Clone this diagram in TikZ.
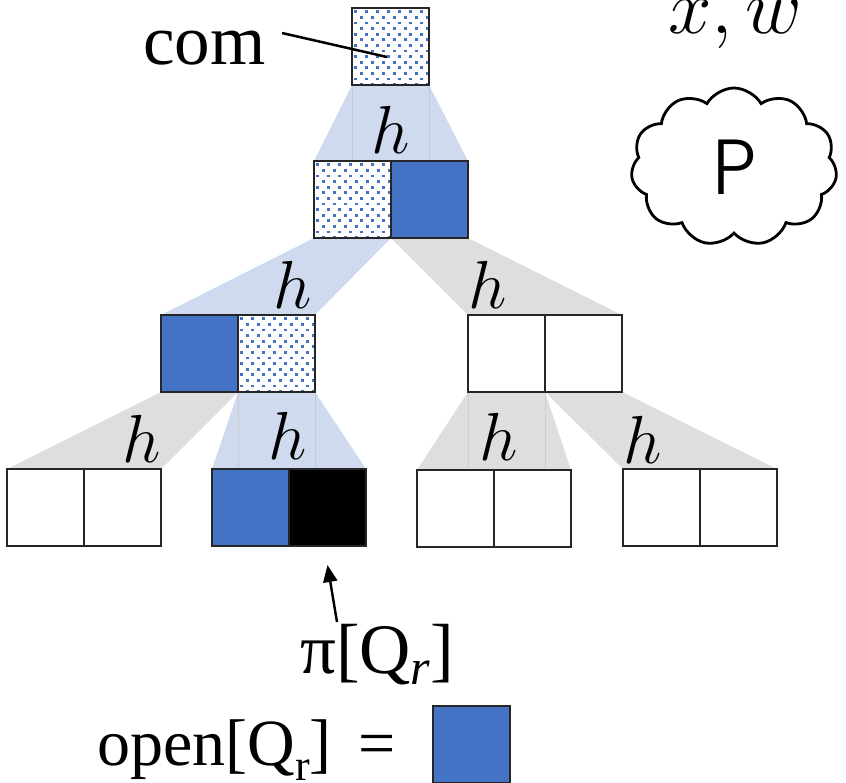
\RequirePackage{fix-cm}
\documentclass[tikz,border=0pt]{standalone}
\usepackage{fontspec}
\setmainfont{Liberation Serif}
\newfontfamily\cloudfont{Poppins}[UprightFont={* Light}]
\usetikzlibrary{shapes.symbols,arrows.meta,calc}

\definecolor{cellblue}{HTML}{4472C4}
\definecolor{fanblue}{HTML}{CFDAEE}
\definecolor{fangray}{HTML}{DEDEDE}

\pgfdeclarelayer{background}
\pgfsetlayers{background,main}

\tikzset{
  cell/.style={rectangle, draw=black!85, line width=1.3pt,
    minimum width=77pt, minimum height=77pt, inner sep=0pt, outer sep=0pt,
    anchor=north west, fill=white},
  bluecell/.style={cell, fill=cellblue},
  blackcell/.style={cell, fill=black},
  dotcell/.style={cell, path picture={
      \foreach \i in {0,...,13}
        \foreach \j in {0,...,7}
          \fill[cellblue] ($(path picture bounding box.north west)
              +({2.3+11*\j+mod(\i,2)*5.5},{2.3+5.6*\i})$) rectangle +(2.8,2.8);
    }},
  fanblue/.style={fill=fanblue, draw=none},
  fangray/.style={fill=fangray, draw=none},
  seam/.style={line width=0.6pt},
  hlabel/.style={font=\fontsize{68}{68}\selectfont, anchor=base, inner sep=0pt},
  bigtext/.style={font=\fontsize{71}{71}\selectfont, anchor=base west, inner sep=0pt},
  arr/.style={line width=2.4pt, -{Triangle[length=17pt,width=14pt]}},
}

\begin{document}
\begin{tikzpicture}[x=1pt,y=-1pt]
  \useasboundingbox (0,0) rectangle (846,782);

  % commitment tree: one pair of cells per node
  \node[dotcell]   (t)  at (352,8)   {};
  \node[dotcell]   (a1) at (314,161) {};
  \node[bluecell]  (a2) at (391,161) {};
  \node[bluecell]  (b1) at (161,315) {};
  \node[dotcell]   (b2) at (238,315) {};
  \node[cell]      (b3) at (468,315) {};
  \node[cell]      (b4) at (545,315) {};
  \node[cell]      (c1) at (7,469)   {};
  \node[cell]      (c2) at (84,469)  {};
  \node[bluecell]  (c3) at (212,469) {};
  \node[blackcell] (c4) at (289,469) {};
  \node[cell]      (c5) at (417,470) {};
  \node[cell]      (c6) at (494,470) {};
  \node[cell]      (c7) at (623,469) {};
  \node[cell]      (c8) at (700,469) {};

  % hash fans from each parent cell to its children
  \begin{pgfonlayer}{background}
    \fill[fanblue] (t.south west) -- (t.south east) -- (a2.north east) -- (a1.north west) -- cycle;
    \fill[fanblue] (a1.south west) -- (a1.south east) -- (b2.north east) -- (b1.north west) -- cycle;
    \fill[fangray] (a2.south west) -- (a2.south east) -- (b4.north east) -- (b3.north west) -- cycle;
    \fill[fangray] (b1.south west) -- (b1.south east) -- (c2.north east) -- (c1.north west) -- cycle;
    \fill[fanblue] (b2.south west) -- (b2.south east) -- (c4.north east) -- (c3.north west) -- cycle;
    \fill[fangray] (b3.south west) -- (b3.south east) -- (c6.north east) -- (c5.north west) -- cycle;
    \fill[fangray] (b4.south west) -- (b4.south east) -- (c8.north east) -- (c7.north west) -- cycle;
    % faint seams below the parent cell edges
    \draw[seam, fanblue!85!cellblue] (t.south west) -- (t.south west |- a1.north);
    \draw[seam, fanblue!85!cellblue] (t.south east) -- (t.south east |- a1.north);
    \draw[seam, fanblue!85!cellblue] (b2.south west) -- (b2.south west |- c3.north);
    \draw[seam, fanblue!85!cellblue] (b2.south east) -- (b2.south east |- c3.north);
    \draw[seam, fangray!92!black] (b1.south east) -- (b1.south east |- c2.north);
    \draw[seam, fangray!92!black] (b3.south west) -- (b3.south west |- c5.north);
    \draw[seam, fangray!92!black] (b3.south east) -- (b3.south east |- c5.north);
  \end{pgfonlayer}

  % hash labels
  \node[hlabel] (h1) at (391,153) {$h$};
  \node[hlabel] (h2) at (293,308) {$h$};
  \node[hlabel] (h3) at (488,308) {$h$};
  \node[hlabel] (h4) at (142,462) {$h$};
  \node[hlabel] (h5) at (288,459) {$h$};
  \node[hlabel] (h6) at (499,460) {$h$};
  \node[hlabel] (h7) at (643,463) {$h$};

  % root commitment
  \node[bigtext] (com) at (143,64) {com};
  \coordinate (comtail) at (282,33);
  \coordinate (comhead) at (387,57);
  \draw[line width=2.5pt] (comtail) -- (comhead);

  % prover with its input and witness
  \node[font=\fontsize{78}{78}\selectfont, anchor=base west, inner sep=0pt] (xw) at (668,33) {$x,w$};
  \node[cloud, draw, line width=2.8pt, cloud puffs=11, cloud puff arc=120,
        cloud ignores aspect, minimum width=206pt, minimum height=158pt,
        font=\cloudfont\fontsize{78}{78}\selectfont] (prover) at (734,167) {P};

  % opening proof of the queried leaf
  \node[bigtext] (pi) at (300,673) {π[Q\raisebox{-11pt}{\fontsize{50}{50}\selectfont\itshape r}]};
  \coordinate (pitail) at (337,622);
  \draw[arr] (pitail) -- ([yshift=-19pt]c4.south);

  \node[bigtext, font=\fontsize{66}{66}\selectfont] (open) at (97,765)
    {open[Q\raisebox{-15pt}{\fontsize{44}{44}\selectfont r}]\hspace{27pt}=};
  \node[bluecell] (key) at (433,706) {};
\end{tikzpicture}
\end{document}
